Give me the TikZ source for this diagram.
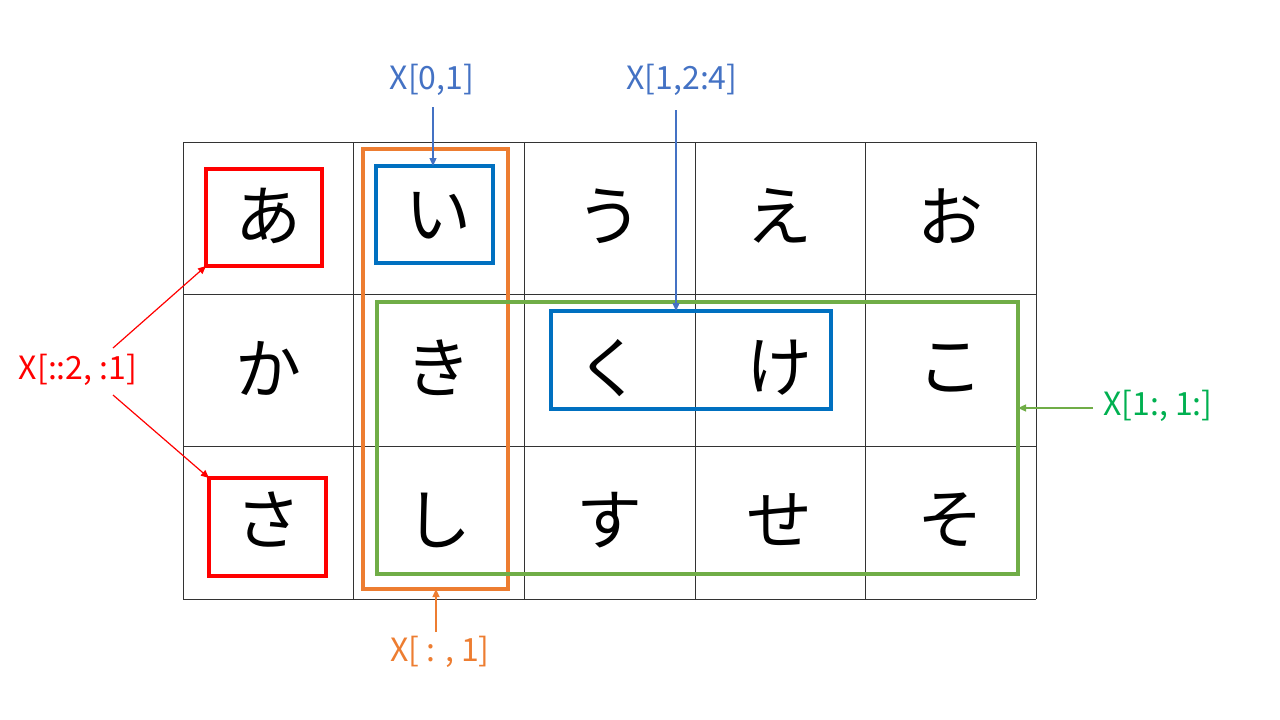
\documentclass[tikz,border=0pt]{standalone}
\usepackage{fontspec}
\setmainfont{Noto Sans CJK JP}
\newfontfamily\jpfont{Noto Sans CJK JP}
\usetikzlibrary{arrows.meta}
\definecolor{cred}{HTML}{FF0000}
\definecolor{cblue}{HTML}{0070C0}
\definecolor{lblue}{HTML}{4472C4}
\definecolor{corange}{HTML}{ED7D31}
\definecolor{cgreen}{HTML}{70AD47}
\definecolor{lgreen}{HTML}{00B050}
\tikzset{
  gridline/.style={draw=black!80, line width=0.9pt},
  kana/.style={font=\jpfont\fontsize{66}{66}\selectfont, inner sep=0pt},
  lbl/.style={font=\jpfont\fontsize{32}{32}\selectfont, inner sep=0pt},
  selbox/.style={draw, line width=3.2pt},
  callout/.style={line width=1.2pt, -{Triangle[length=8pt,width=7pt]}}
}
\begin{document}
\begin{tikzpicture}[x=1pt,y=-1pt]
\useasboundingbox (0,0) rectangle (1280,720);
% grid
\foreach \x in {183,353,524,695,865,1036} \draw[gridline] (\x,142) -- (\x,599);
\foreach \y in {142,294,446,599} \draw[gridline] (183,\y) -- (1036,\y);
% kana
\foreach \t [count=\i from 0] in {あ,い,う,え,お} \node[kana] (r0c\i) at (268+170.6*\i,216) {\t};
\foreach \t [count=\i from 0] in {か,き,く,け,こ} \node[kana] (r1c\i) at (268+170.6*\i,368) {\t};
\foreach \t [count=\i from 0] in {さ,し,す,せ,そ} \node[kana] (r2c\i) at (268+170.6*\i,520) {\t};
% boxes
\draw[selbox, cred] (206,169) rectangle (322,266);
\coordinate (redA) at (206,266);
\draw[selbox, cred] (209,478) rectangle (326,576);
\coordinate (redS) at (209,478);
\draw[selbox, corange] (363,149) rectangle (508,589);
\coordinate (orB) at (436,589);
\draw[selbox, cgreen] (377,302) rectangle (1018,574);
\coordinate (grR) at (1018,408);
\draw[selbox, cblue] (376,166) rectangle (493,263);
\coordinate (blI) at (433,166);
\draw[selbox, cblue] (551,311) rectangle (831,409);
\coordinate (blK) at (676,311);
% labels
\node[lbl, text=lblue] (l01) at (432,80) {X[0,1]};
\node[lbl, text=lblue] (l124) at (682,80) {X[1,2:4]};
\node[lbl, text=cred] (l21) at (78,370) {X[::2, :1]};
\node[lbl, text=lgreen] (l11) at (1158,406) {X[1:, 1:]};
\node[lbl, text=corange] (lc1) at (440,652) {X[ : , 1]};
% callouts
\coordinate (a1) at (433,107);
\draw[callout, lblue] (a1) -- (blI);
\coordinate (a2) at (676,110);
\draw[callout, lblue] (a2) -- (blK);
\coordinate (a3) at (113,348);
\coordinate (a4) at (113,395);
\draw[callout, cred] (a3) -- (redA);
\draw[callout, cred] (a4) -- (redS);
\coordinate (a5) at (1093,408);
\draw[callout, cgreen] (a5) -- (grR);
\coordinate (a6) at (436,632);
\draw[callout, corange] (a6) -- (orB);
\end{tikzpicture}
\end{document}
